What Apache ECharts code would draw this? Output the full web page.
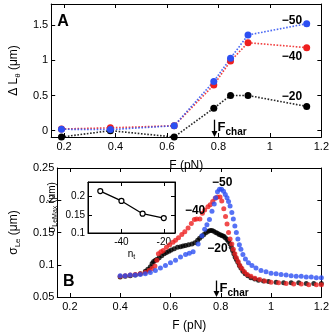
<!DOCTYPE html>
<html>
<head>
<meta charset="UTF-8">
<title>Le fluctuation</title>
<script src="https://cdn.jsdelivr.net/npm/echarts@6/dist/echarts.min.js"></script>
<style>
    html, body { margin: 0; padding: 0; background: #fff; }
    #main { width: 332px; height: 333px; }
</style>
</head>
<body>
<div id="main"></div>
<script type="text/javascript">
// panel A : change of length vs force, one line per n_t
var forceA = [0.19, 0.38, 0.628, 0.782, 0.847, 0.915, 1.143];
var dL50 = [0.02, 0.015, 0.07, 0.70, 1.03, 1.36, 1.52];
var dL40 = [0.024, 0.04, 0.07, 0.65, 0.99, 1.25, 1.18];
var dL20 = [-0.09, 0.0, -0.09, 0.32, 0.50, 0.50, 0.345];

// panel B : sigma_Le vs force  [F, sigma]
var sig50 = [[0.40,0.083],[0.42,0.083],[0.44,0.084],[0.46,0.084],[0.48,0.085],[0.50,0.086],[0.52,0.088],[0.54,0.091],
    [0.56,0.095],[0.58,0.099],[0.60,0.103],[0.62,0.107],[0.64,0.112],[0.66,0.116],[0.675,0.118],[0.69,0.120],
    [0.71,0.132],[0.725,0.145],[0.736,0.155],[0.745,0.162],[0.755,0.170],[0.765,0.183],[0.774,0.194],[0.78,0.204],
    [0.787,0.213],[0.795,0.217],[0.803,0.217],[0.811,0.214],[0.818,0.209],[0.825,0.204],[0.831,0.198],[0.837,0.191],
    [0.844,0.181],[0.85,0.171],[0.856,0.160],[0.862,0.150],[0.868,0.140],[0.874,0.131],[0.88,0.124],[0.888,0.116],
    [0.898,0.109],[0.91,0.103],[0.924,0.099],[0.94,0.095],[0.96,0.091],[0.98,0.089],[1.00,0.087],[1.02,0.086],
    [1.04,0.085],[1.06,0.084],[1.08,0.083],[1.10,0.082],[1.12,0.082],[1.14,0.081],[1.16,0.081],[1.18,0.080],[1.20,0.080]];
var sig40 = [[0.40,0.082],[0.42,0.083],[0.44,0.084],[0.46,0.085],[0.48,0.086],[0.50,0.088],[0.515,0.091],[0.527,0.094],
    [0.538,0.098],[0.546,0.107],[0.552,0.117],[0.562,0.120],[0.571,0.122],[0.584,0.127],[0.597,0.131],[0.61,0.135],
    [0.62,0.138],[0.632,0.142],[0.645,0.147],[0.657,0.151],[0.67,0.157],[0.683,0.164],[0.695,0.170],[0.704,0.171],
    [0.717,0.171],[0.727,0.180],[0.736,0.185],[0.749,0.190],[0.758,0.193],[0.768,0.198],[0.778,0.203],[0.787,0.205],
    [0.797,0.205],[0.804,0.199],[0.812,0.187],[0.819,0.175],[0.825,0.163],[0.831,0.150],[0.837,0.140],[0.844,0.132],
    [0.85,0.124],[0.856,0.117],[0.862,0.111],[0.869,0.105],[0.876,0.099],[0.884,0.094],[0.894,0.089],[0.905,0.085],
    [0.92,0.082],[0.936,0.079],[0.955,0.077],[0.975,0.075],[1.00,0.073],[1.03,0.072],[1.06,0.071],[1.09,0.070],
    [1.12,0.070],[1.15,0.069],[1.18,0.069],[1.20,0.069]];
var sig20 = [[0.40,0.081],[0.42,0.082],[0.44,0.083],[0.46,0.084],[0.48,0.086],[0.50,0.090],[0.51,0.093],[0.52,0.097],
    [0.527,0.102],[0.533,0.105],[0.54,0.107],[0.546,0.108],[0.555,0.111],[0.565,0.114],[0.575,0.117],[0.584,0.119],
    [0.594,0.121],[0.603,0.123],[0.615,0.125],[0.628,0.127],[0.64,0.128],[0.65,0.129],[0.66,0.130],[0.672,0.131],
    [0.685,0.132],[0.697,0.134],[0.708,0.138],[0.716,0.141],[0.725,0.144],[0.733,0.147],[0.742,0.150],[0.75,0.152],
    [0.758,0.153],[0.765,0.153],[0.772,0.152],[0.78,0.150],[0.787,0.149],[0.794,0.147],[0.80,0.146],[0.806,0.145],
    [0.812,0.144],[0.818,0.142],[0.825,0.139],[0.831,0.136],[0.837,0.132],[0.842,0.127],[0.847,0.122],[0.852,0.117],
    [0.857,0.112],[0.862,0.108],[0.868,0.104],[0.874,0.099],[0.88,0.095],[0.888,0.090],[0.897,0.086],[0.908,0.083],
    [0.92,0.080],[0.935,0.078],[0.95,0.076],[0.97,0.075],[0.99,0.074],[1.02,0.073],[1.05,0.072],[1.08,0.072],
    [1.11,0.072],[1.14,0.071],[1.17,0.071],[1.20,0.071]];

// inset : max sigma vs n_t
var insetN = [-50, -40, -30, -20];
var insetMax = [0.215, 0.188, 0.153, 0.141];

var fTicks = [0.2, 0.4, 0.6, 0.8, 1, 1.2];
var dLTicks = [0, 0.5, 1, 1.5];
var sigTicks = [0.05, 0.1, 0.15, 0.2, 0.25];
var nTicks = [-40, -20];
var maxTicks = [0.1, 0.15, 0.2];
var fChar = 0.782;

var BLUE = '#2c4ff2';
var RED = '#ee1f1f';
var FONT = 'Liberation Sans';

function axis(kind, grid, pos, min, max, ticks, showLabel, fs) {
    return {
        type: 'value', gridIndex: grid, position: pos, min: min, max: max,
        axisLine: { show: true, onZero: false, lineStyle: { color: '#000', width: 1 } },
        axisTick: { show: true, inside: true, length: 4, customValues: ticks, lineStyle: { color: '#000' } },
        axisLabel: { show: showLabel, customValues: ticks, color: '#000', fontSize: fs, fontFamily: FONT, margin: kind === 'x' ? 4 : 3 },
        splitLine: { show: false }
    };
}

function named(ax, name, gap, rich) {
    ax.name = name;
    ax.nameLocation = 'middle';
    ax.nameGap = gap;
    ax.nameTextStyle = { color: '#000', fontFamily: FONT, rich: rich };
    return ax;
}

var richMain = {
    a: { fontSize: 12, fontFamily: FONT, color: '#000', lineHeight: 16, verticalAlign: 'middle' },
    s: { fontSize: 8, fontFamily: FONT, color: '#000', lineHeight: 9, verticalAlign: 'bottom' }
};
var richSmall = {
    a: { fontSize: 10, fontFamily: FONT, color: '#000', lineHeight: 13, verticalAlign: 'middle' },
    s: { fontSize: 7, fontFamily: FONT, color: '#000', lineHeight: 7, verticalAlign: 'bottom' }
};

var xA = named(axis('x', 0, 'bottom', 0.15, 1.2, fTicks, true, 11), '{a|F (pN)}', 21, richMain);
var yA = named(axis('y', 0, 'left', -0.09, 1.8, dLTicks, true, 11), '{a|Δ L}{s|θ}{a| (μm)}', 28, richMain);
var xB = named(axis('x', 1, 'bottom', 0.15, 1.2, fTicks, true, 11), '{a|F (pN)}', 21, richMain);
var yB = named(axis('y', 1, 'left', 0.05, 0.25, sigTicks, true, 11), '{a|σ}{s|Le}{a| (μm)}', 30, richMain);
var xI = named(axis('x', 2, 'bottom', -55.8, -14.7, nTicks, true, 10), '{a|n}{s|t}', 15, richSmall);
var yI = named(axis('y', 2, 'left', 0.1, 0.24, maxTicks, true, 10), '{a|σ}{s|LeMax}{a| (μm)}', 29, richSmall);
yA.axisLabel.formatter = function (v) { return String(v); };

var chartDom = document.getElementById('main');
var myChart = echarts.init(chartDom);

function lineA(name, data, color) {
    return {
        name: name, type: 'line', xAxisIndex: 0, yAxisIndex: 0, clip: false,
        data: forceA.map(function (f, i) { return [f, data[i]]; }),
        symbol: 'circle', symbolSize: 7,
        itemStyle: { color: color },
        lineStyle: { color: color, type: 'dotted', width: 1.6, opacity: 0.85 }
    };
}
function dotsB(name, data, color) {
    return {
        name: name, type: 'scatter', xAxisIndex: 3, yAxisIndex: 3, clip: false,
        data: data, symbolSize: 5, itemStyle: { color: color }
    };
}

var option = {
    animation: false,
    backgroundColor: '#fff',
    grid: [
        { left: 46, top: 4, width: 277, height: 133 },
        { left: 46, top: 168, width: 277, height: 136 },
        { left: 88, top: 182, width: 87, height: 51, show: true, backgroundColor: '#fff', borderColor: '#000', borderWidth: 1 }
    ],
    xAxis: [
        xA,
        axis('x', 0, 'top', 0.15, 1.2, fTicks, false, 11),
        axis('x', 1, 'top', 0.15, 1.2, fTicks, false, 11),
        xB,
        xI,
        axis('x', 2, 'top', -55.8, -14.7, nTicks, false, 10)
    ],
    yAxis: [
        yA,
        axis('y', 0, 'right', -0.09, 1.8, dLTicks, false, 11),
        axis('y', 1, 'right', 0.05, 0.25, sigTicks, false, 11),
        yB,
        yI,
        axis('y', 2, 'right', 0.1, 0.24, maxTicks, false, 10)
    ],
    series: [
        lineA('-20', dL20, '#000'),
        lineA('-40', dL40, RED),
        lineA('-50', dL50, BLUE),
        dotsB('-20', sig20, '#000'),
        dotsB('-40', sig40, RED),
        dotsB('-50', sig50, BLUE),
        {
            name: 'max', type: 'line', xAxisIndex: 4, yAxisIndex: 4, z: 5,
            data: insetN.map(function (n, i) { return [n, insetMax[i]]; }),
            symbol: 'circle', symbolSize: 5,
            itemStyle: { color: '#fff', borderColor: '#000', borderWidth: 1.2 },
            lineStyle: { color: '#000', width: 1.3 }
        }
    ]
};
option && myChart.setOption(option);

// annotations placed through the axes
function px(xi, yi, pt) { return myChart.convertToPixel({ xAxisIndex: xi, yAxisIndex: yi }, pt); }
function label(p, text, size) {
    return { type: 'text', x: p[0], y: p[1], z: 10,
        style: { text: text, font: 'bold ' + size + 'px "' + FONT + '"', fill: '#000', textAlign: 'center', textVerticalAlign: 'middle' } };
}
function fArrow(top, bottom) {
    var x = Math.round(top[0]) + 0.5;
    return [
        { type: 'line', z: 10, shape: { x1: x, y1: top[1], x2: x, y2: bottom[1] - 4 }, style: { stroke: '#000', lineWidth: 1.3 } },
        { type: 'polygon', z: 10, shape: { points: [[x - 3, bottom[1] - 6], [x + 3, bottom[1] - 6], [x, bottom[1]]] }, style: { fill: '#000' } },
        { type: 'text', z: 10, x: x + 3, y: top[1] + 1, style: { text: 'F', font: 'bold 13px "' + FONT + '"', fill: '#000', textAlign: 'left', textVerticalAlign: 'top' } },
        { type: 'text', z: 10, x: x + 11, y: top[1] + 8, style: { text: 'char', font: 'bold 10px "' + FONT + '"', fill: '#000', textAlign: 'left', textVerticalAlign: 'top' } }
    ];
}

var g = [
    label(px(0, 0, [0.196, 1.545]), 'A', 16),
    label(px(0, 0, [1.086, 1.565]), '−50', 12),
    label(px(0, 0, [1.086, 1.045]), '−40', 12),
    label(px(0, 0, [1.086, 0.487]), '−20', 12),
    label(px(3, 3, [0.196, 0.0736]), 'B', 16),
    label(px(3, 3, [0.806, 0.228]), '−50', 12),
    label(px(3, 3, [0.698, 0.184]), '−40', 12),
    label(px(3, 3, [0.787, 0.125]), '−20', 12)
];
g = g.concat(fArrow(px(0, 0, [fChar, 0.156]), px(0, 0, [fChar, -0.09])));
g = g.concat(fArrow(px(3, 3, [fChar, 0.0755]), px(3, 3, [fChar, 0.05])));
myChart.setOption({ graphic: g });
</script>
</body>
</html>
